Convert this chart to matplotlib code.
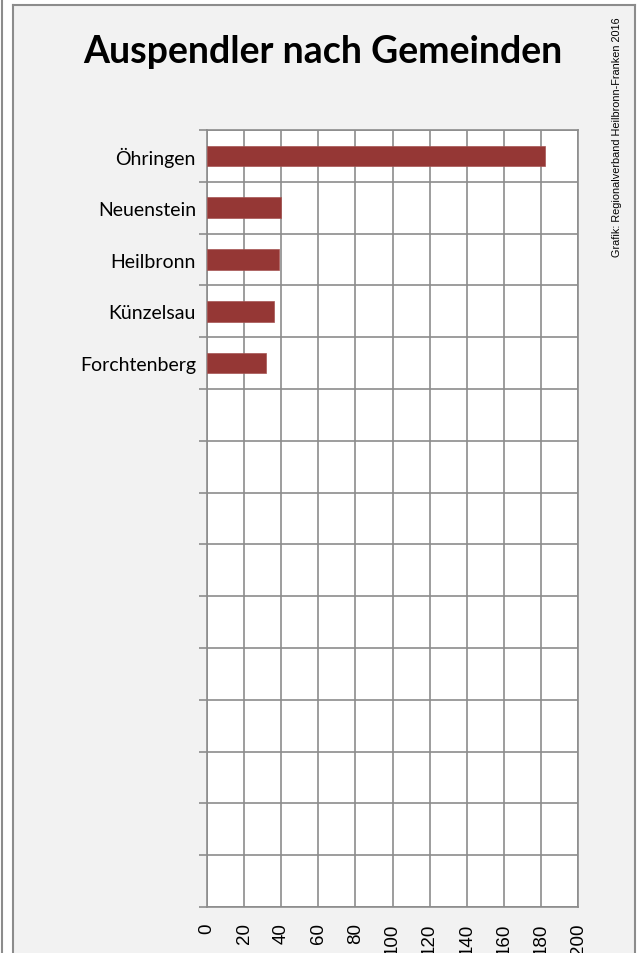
import matplotlib
matplotlib.use("Agg")
import matplotlib.pyplot as plt
from matplotlib.patches import Rectangle
from matplotlib.lines import Line2D
import numpy as np

categories = ["Öhringen", "Neuenstein", "Heilbronn", "Künzelsau", "Forchtenberg"]
values = [182, 40, 39, 36, 32]
n_slots = 15
x_ticks = list(range(0, 201, 20))
title = "Auspendler nach Gemeinden"
credit = "Grafik: Regionalverband Heilbronn-Franken 2016"

W, H = 641, 954
fig = plt.figure(figsize=(W / 100, H / 100), dpi=100)
fig.patch.set_facecolor("white")

def fx(px):
    return px / W

def fy(py):
    return 1 - py / H

grey = "#8c8c8c"
# panel background
fig.patches.append(Rectangle((fx(13), 0), fx(635) - fx(13), fy(6), transform=fig.transFigure,
                             facecolor="#f2f2f2", edgecolor="none", zorder=-2))
for l in [
    Line2D([fx(1.5), fx(1.5)], [0, 1], color=grey, lw=1.5),
    Line2D([fx(12.5), fx(12.5)], [0, fy(6)], color=grey, lw=1.5),
    Line2D([fx(12.5), fx(635)], [fy(6), fy(6)], color=grey, lw=1.5),
    Line2D([fx(635), fx(635)], [0, fy(6)], color=grey, lw=1.5),
]:
    l.set_transform(fig.transFigure)
    l.set_zorder(-1)
    fig.lines.append(l)

ax = fig.add_axes([fx(207), fy(908), fx(578) - fx(207), fy(131) - fy(908)])
ax.set_zorder(1)
ax.set_facecolor("white")
ypos = np.arange(len(categories))
ax.barh(ypos, values, height=0.4, color="#953735", edgecolor="#a65553", linewidth=0.5, zorder=3)
ax.set_xlim(0, 200)
ax.set_ylim(n_slots - 0.5, -0.5)

ax.set_xticks(x_ticks)
ax.set_xticklabels([str(v) for v in x_ticks], rotation=90, fontsize=13.5,
                   family=["Liberation Sans", "DejaVu Sans"])
ax.tick_params(axis="x", length=0, pad=11)
for t in ax.get_xticklabels():
    t.set_va("top")

ax.set_yticks(np.arange(-0.5, n_slots, 1.0))
ax.set_yticklabels([])
ax.set_yticks(ypos, minor=True)
ax.set_yticklabels(categories, minor=True, fontsize=14, family=["Lato", "DejaVu Sans"])
ax.tick_params(axis="y", which="major", length=6, width=1.2, color=grey, direction="out")
ax.tick_params(axis="y", which="minor", length=0, pad=8)

ax.grid(True, which="major", color=grey, lw=1.2, zorder=1)
ax.set_axisbelow(True)
for s in ax.spines.values():
    s.set_color(grey)
    s.set_linewidth(1.2)

fig.text(fx(323), fy(63), title, ha="center", va="baseline", fontsize=27,
         fontweight="bold", family=["Lato", "DejaVu Sans"])
fig.text(fx(617), fy(17), credit, rotation=90, ha="center", va="top", fontsize=7.8,
         family=["Liberation Sans", "DejaVu Sans"])

fig.savefig("out.png", dpi=100)
